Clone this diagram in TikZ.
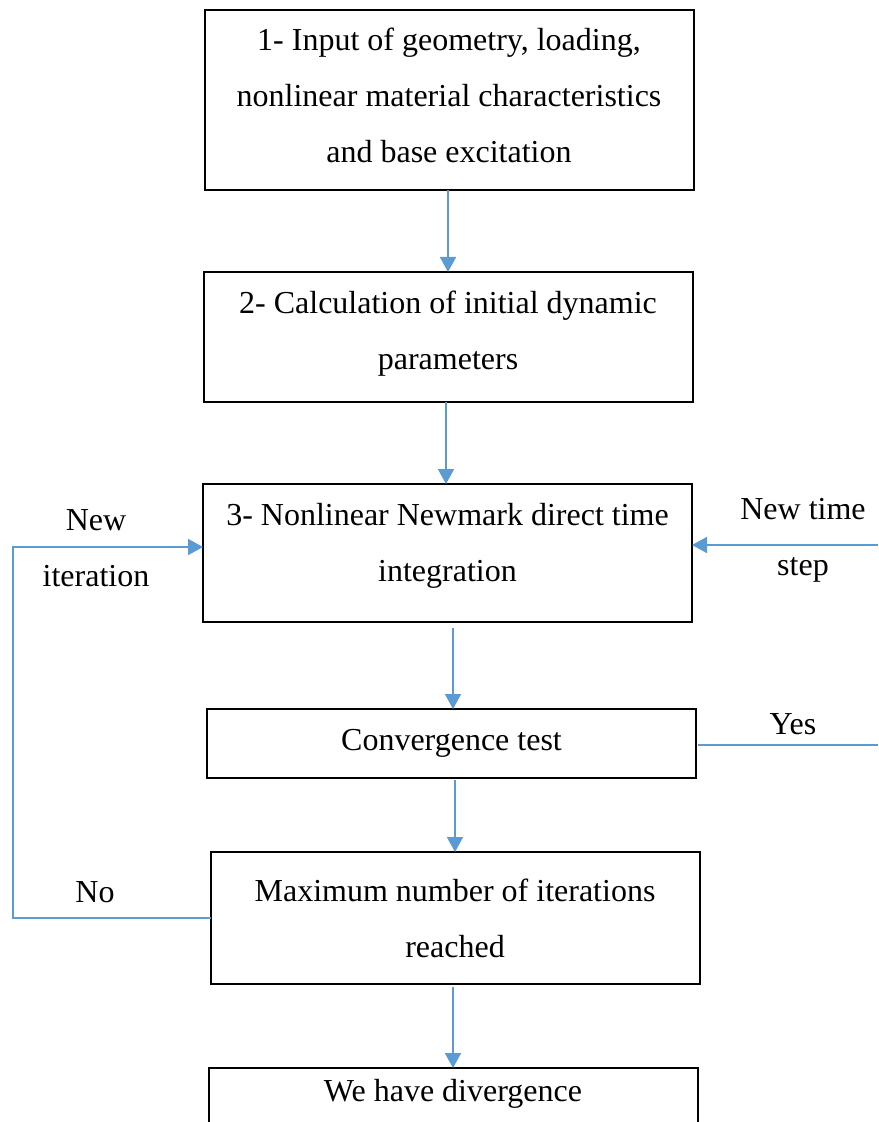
\documentclass[tikz,border=0pt]{standalone}
\usepackage{fontspec}
\setmainfont{Liberation Serif}
\usepackage{tikz}
\usetikzlibrary{arrows.meta, positioning}

\definecolor{linkblue}{RGB}{91,155,213}

\begin{document}
\begin{tikzpicture}[
  x=0.5pt, y=-0.5pt,
  stepbox/.style={rectangle, draw, line width=1pt, outer sep=0pt, minimum width=244.5pt, align=center, font=\fontsize{16}{28}\selectfont},
  lbl/.style={align=center, font=\fontsize{16}{28}\selectfont},
  conn/.style={draw=linkblue, line width=0.9pt},
  arr/.style={conn, -{Triangle[length=7.5pt, width=8pt]}, linkblue},
]
\useasboundingbox (0,0) rectangle (878,1122);

\node[stepbox, minimum height=90pt, text depth=5pt] (input) at (449,100) {1- Input of geometry, loading,\\nonlinear material characteristics\\and base excitation};
\node[stepbox, minimum height=65pt, text depth=6.5pt, below=41pt of input, xshift=-0.5pt] (initpar) {2- Calculation of initial dynamic\\parameters};
\node[stepbox, minimum height=69pt, text depth=11pt, below=41pt of initpar, xshift=-0.25pt] (newmark) {3- Nonlinear Newmark direct time\\integration};
\node[stepbox, minimum height=34.5pt, below=43.5pt of newmark, xshift=2pt] (convtest) {Convergence test};
\node[stepbox, minimum height=66pt, below=37pt of convtest, xshift=1.75pt] (maxit) {Maximum number of iterations\\reached};
\node[stepbox, inner ysep=5.5pt, text depth=20pt, below=42pt of maxit, xshift=-1pt] (diverge) {We have divergence};

% free ends of the side connectors
\coordinate (loopx) at (13,0);
\coordinate (rightend) at (878,545);
\coordinate (yesend) at (878,745);

% main chain
\draw[arr] (input.south -| initpar.north) -- (initpar.north);
\draw[arr] ([xshift=-0.75pt]initpar.south -| newmark.north) -- ([xshift=-0.75pt]newmark.north);
\draw[arr, shorten <=3pt] ([xshift=0.75pt]newmark.south -| convtest.north) -- ([xshift=0.75pt]convtest.north);
\draw[arr, shorten <=1pt] (convtest.south -| maxit.north) -- (maxit.north);
\draw[arr, shorten <=1.5pt] (maxit.south -| diverge.north) -- (diverge.north);

% iteration loop and time stepping
\draw[arr] (maxit.west) -- (maxit.west -| loopx) |- ([yshift=3pt]newmark.west);
\draw[arr] (rightend) -- (rightend -| newmark.east);
\draw[conn] ([xshift=1pt]convtest.east |- yesend) -- (yesend);

\node[lbl] (lblnew) at (96,548) {New\\iteration};
\node[lbl] (lblno) at (95,892) {No};
\node[lbl] (lbltime) at (803,540) {New time\\step};
\node[lbl] (lblyes) at (793,724) {Yes};
\end{tikzpicture}
\end{document}
